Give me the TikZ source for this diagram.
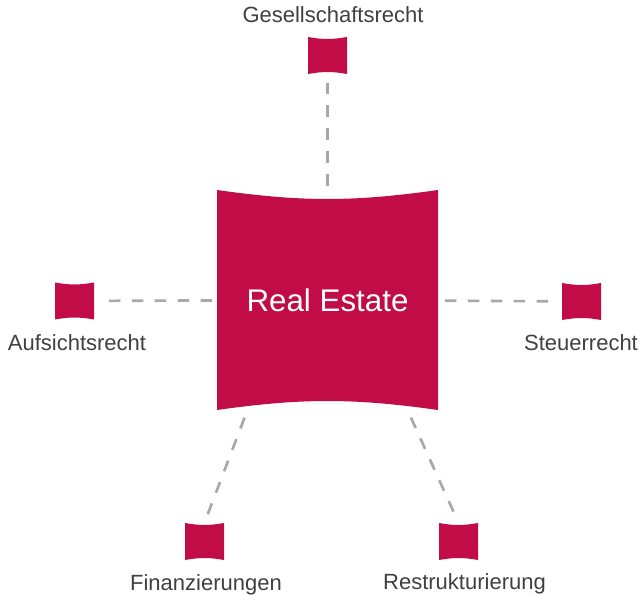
\documentclass[tikz,border=0pt]{standalone}
\usepackage{fontspec}
\setmainfont{Liberation Sans}
\definecolor{brand}{RGB}{194,12,71}
\definecolor{labelgray}{RGB}{64,64,64}
\definecolor{linkgray}{RGB}{168,168,168}
\tikzset{
	wavebox/.style={inner sep=0pt, path picture={
		\fill[brand] (path picture bounding box.north west) to[bend right=#1] (path picture bounding box.north east)
		-- (path picture bounding box.south east) to[bend right=#1] (path picture bounding box.south west) -- cycle;}},
	smallbox/.style={wavebox=10, minimum width=29.25pt, minimum height=27.75pt},
	link/.style={draw=linkgray, line width=2pt, dash pattern=on 8.6pt off 8.6pt},
	lbl/.style={anchor=base, text=labelgray, font=\fontsize{16.5pt}{19pt}\selectfont}
}
\begin{document}
\begin{tikzpicture}[x=0.75pt, y=-0.75pt]
		\useasboundingbox (0,0) rectangle (643,595);
		
		\node[wavebox=8, minimum width=165.75pt, minimum height=165pt,
		text=white, font=\fontsize{23.5pt}{28pt}\selectfont] (core) at (327.5,300) {Real Estate};
		
		\node[smallbox] (gesell) at (327.5,55.5) {};
		\node[smallbox] (aufsicht) at (74.5,301) {};
		\node[smallbox] (steuer) at (581.5,301.5) {};
		\node[smallbox] (finanz) at (204.5,541.5) {};
		\node[smallbox] (restruk) at (458.5,541.5) {};
		
		\node[lbl] (gesell-l) at (333,23) {Gesellschaftsrecht};
		\node[lbl] (aufsicht-l) at (77,351) {Aufsichtsrecht};
		\node[lbl] (steuer-l) at (581,351) {Steuerrecht};
		\node[lbl] (finanz-l) at (206,590) {Finanzierungen};
		\node[lbl] (restruk-l) at (464.5,589) {Restrukturierung};
		
		\draw[link, shorten <=3pt, shorten >=6.5pt] (core) -- (gesell);
		\draw[link, shorten <=3.5pt, shorten >=6.5pt] (core) -- (aufsicht);
		\draw[link, shorten <=5pt, shorten >=6.5pt] (core) -- (steuer);
		\draw[link, shorten <=6pt, shorten >=4pt] (core.-126) -- (finanz.north);
		\draw[link, shorten <=6pt, shorten >=4pt] (core.-54) -- (restruk.north);
		
	\end{tikzpicture}
\end{document}
